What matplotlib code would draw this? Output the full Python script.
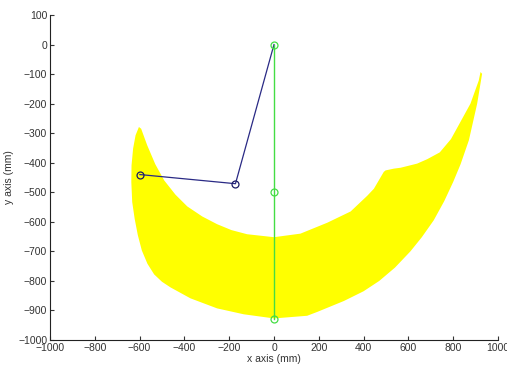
import matplotlib
matplotlib.use("Agg")
import matplotlib.pyplot as plt

plt.rcParams['font.family'] = ['Liberation Sans', 'DejaVu Sans']

# Workspace boundary, outer edge from left tip to right tip
outer_x = [-603, -618, -629, -636, -637, -633, -622, -608, -590, -565, -535, -500, -462, -373, -254, -135, 0,
           148, 193, 312, 400, 470, 540, 609, 660, 713, 760, 800, 833, 870, 907, 929]
outer_y = [-279, -307, -352, -409, -465, -533, -590, -645, -697, -742, -778, -803, -822, -859, -893, -913, -927,
           -918, -905, -868, -835, -800, -755, -700, -652, -595, -530, -465, -405, -324, -200, -99]
# inner edge from right tip back to left tip
inner_x = [922, 914, 877, 830, 790, 740, 684, 639, 565, 535, 498, 490, 446, 416, 342, 238, 118, 0,
           -120, -190, -254, -320, -387, -440, -490, -530, -566, -593]
inner_y = [-93, -122, -200, -265, -320, -365, -388, -403, -417, -420, -426, -431, -488, -512, -565, -603, -640, -652,
           -642, -628, -608, -582, -548, -508, -460, -405, -341, -285]

# Arm configurations
arm1_x = [0, -172, -599]
arm1_y = [0, -471, -440]
arm2_x = [0, 0, 0]
arm2_y = [0, -500, -930]

xticks = [-1000, -800, -600, -400, -200, 0, 200, 400, 600, 800, 1000]
yticks = [100, 0, -100, -200, -300, -400, -500, -600, -700, -800, -900, -1000]

fig = plt.figure(figsize=(5.07, 3.70), dpi=100)
ax = fig.add_axes([50/507, 30/370, 448/507, 325/370])

ax.fill(outer_x + inner_x, outer_y + inner_y, color='#ffff00', lw=0)

ax.plot(arm1_x, arm1_y, '-', color='#2a2a85', lw=0.9)
ax.plot(arm1_x[1:], arm1_y[1:], 'o', mfc='none', mec='#1a1a66', ms=5, mew=0.9)
ax.plot(arm2_x, arm2_y, '-', color='#44dd44', lw=1.0)
ax.plot(arm2_x, arm2_y, 'o', mfc='none', mec='#44dd44', ms=5, mew=0.9)

ax.set_xlim(-1000, 1000)
ax.set_ylim(-1000, 100)
ax.set_xticks(xticks)
ax.set_yticks(yticks)
ax.tick_params(direction='in', length=3, width=0.8, labelsize=7.5, colors='#333333', pad=2)
for s in ['top', 'right']:
    ax.spines[s].set_visible(False)
for s in ['left', 'bottom']:
    ax.spines[s].set_color('#222222')
    ax.spines[s].set_linewidth(0.8)
ax.set_xlabel('x axis (mm)', fontsize=7.5, color='#333333', labelpad=1)
ax.set_ylabel('y axis (mm)', fontsize=7.5, color='#333333', labelpad=3)

fig.savefig('out.png', dpi=100, facecolor='white')
